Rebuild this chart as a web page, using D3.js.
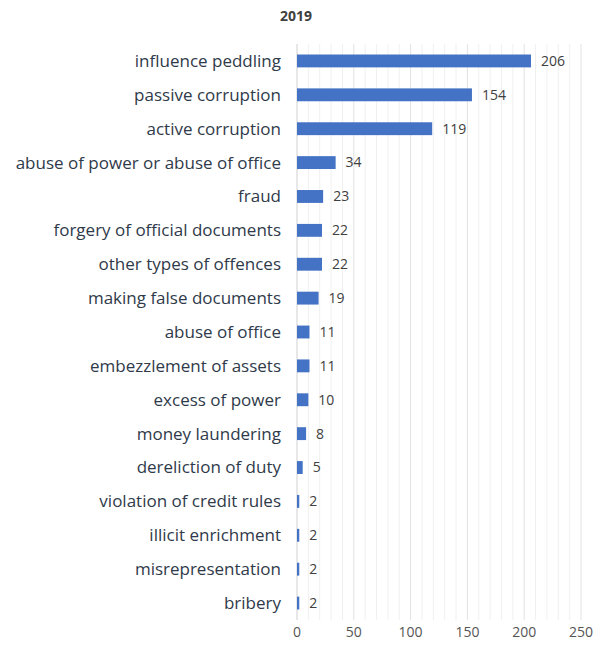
<!DOCTYPE html>
<html>
<head>
<meta charset="utf-8">
<script src="https://cdn.jsdelivr.net/npm/d3@7"></script>
<style>
  body { margin: 0; background: #fff; }
  svg { font-family: "Open Sans", sans-serif; }
</style>
</head>
<body>
<div id="chart"></div>
<script>
const categories = [
    'influence peddling', 'passive corruption', 'active corruption',
    'abuse of power or abuse of office', 'fraud', 'forgery of official documents',
    'other types of offences', 'making false documents', 'abuse of office',
    'embezzlement of assets', 'excess of power', 'money laundering',
    'dereliction of duty', 'violation of credit rules', 'illicit enrichment',
    'misrepresentation', 'bribery'
];
const values = [206, 154, 119, 34, 23, 22, 22, 19, 11, 11, 10, 8, 5, 2, 2, 2, 2];
const xTicks = [0, 50, 100, 150, 200, 250];
const title = '2019';

const width = 608, height = 655;
const margin = { top: 44, right: 27, bottom: 30, left: 297 };

const svg = d3.select('#chart').append('svg')
    .attr('width', width)
    .attr('height', height);

const x = d3.scaleLinear().domain([0, 250]).range([margin.left, width - margin.right]);
const y = d3.scaleBand().domain(categories)
    .range([margin.top, height - margin.bottom - 5])
    .paddingInner(0.62).paddingOuter(0.31);

// minor grid
svg.append('g').selectAll('line')
    .data(d3.range(10, 251, 10).filter(v => v % 50 !== 0))
    .enter().append('line')
    .attr('x1', d => x(d)).attr('x2', d => x(d))
    .attr('y1', margin.top).attr('y2', height - margin.bottom - 5)
    .attr('stroke', '#f0f0f0');

// major grid
svg.append('g').selectAll('line')
    .data(xTicks)
    .enter().append('line')
    .attr('x1', d => x(d)).attr('x2', d => x(d))
    .attr('y1', margin.top).attr('y2', height - margin.bottom - 5)
    .attr('stroke', d => d === 0 ? '#d0d0d0' : '#e2e2e2');

// bars
svg.append('g').selectAll('rect')
    .data(values)
    .enter().append('rect')
    .attr('x', x(0))
    .attr('y', (d, i) => y(categories[i]))
    .attr('width', d => x(d) - x(0))
    .attr('height', y.bandwidth())
    .attr('fill', '#4472c4');

// value labels
svg.append('g').selectAll('text')
    .data(values)
    .enter().append('text')
    .attr('x', d => x(d) + 10)
    .attr('y', (d, i) => y(categories[i]) + y.bandwidth() / 2)
    .attr('dy', '0.35em')
    .attr('font-size', 14)
    .attr('fill', '#404040')
    .text(d => d);

// category labels
svg.append('g').selectAll('text')
    .data(categories)
    .enter().append('text')
    .attr('x', margin.left - 16)
    .attr('y', d => y(d) + y.bandwidth() / 2)
    .attr('dy', '0.35em')
    .attr('text-anchor', 'end')
    .attr('font-size', 17)
    .attr('fill', '#2f3a4a')
    .text(d => d);

// x axis labels
svg.append('g').selectAll('text')
    .data(xTicks)
    .enter().append('text')
    .attr('x', d => x(d))
    .attr('y', 637)
    .attr('text-anchor', 'middle')
    .attr('font-size', 14)
    .attr('fill', '#555')
    .text(d => d);

svg.append('text')
    .attr('x', 296)
    .attr('y', 21)
    .attr('text-anchor', 'middle')
    .attr('font-size', 14)
    .attr('font-weight', 'bold')
    .attr('fill', '#404040')
    .text(title);
</script>
</body>
</html>
